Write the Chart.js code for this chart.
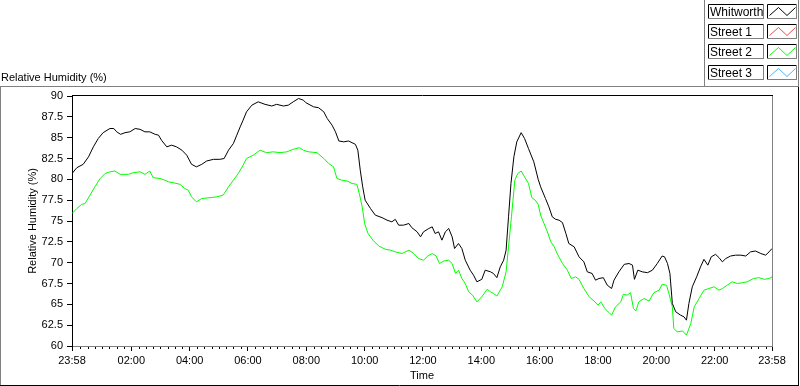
<!DOCTYPE html>
<html>
<head>
<meta charset="utf-8">
<script src="https://cdn.jsdelivr.net/npm/chart.js@4.4.1/dist/chart.umd.min.js"></script>
<style>
  html, body { margin: 0; padding: 0; background: #fff; }
  canvas { display: block; }
</style>
</head>
<body>
<canvas id="rh" width="800" height="386"></canvas>
<script>
// Time is minutes from midnight; -2 is 23:58 of the previous day
const whitworthTime = [
  -2, 8, 21, 32, 42, 52, 62, 76, 84, 90,
  98, 107, 117, 128, 138, 148, 158, 169, 176, 182,
  193, 203, 213, 224, 234, 244, 254, 265, 275, 289,
  302, 311, 320, 330, 337, 344, 350, 357, 368, 381,
  395, 409, 419, 433, 443, 453, 464, 474, 479, 495,
  505, 516, 523, 533, 540, 547, 557, 567, 581, 586,
  591, 596, 601, 612, 622, 636, 646, 656, 663, 670,
  680, 691, 697, 708, 715, 721, 732, 739, 745, 752,
  759, 766, 773, 780, 785, 793, 800, 807, 817, 824,
  831, 841, 848, 859, 865, 872, 879, 886, 891, 896,
  901, 907, 913, 922, 929, 937, 948, 957, 962, 972,
  979, 986, 993, 1000, 1007, 1014, 1020, 1031, 1041, 1051,
  1058, 1068, 1075, 1082, 1091, 1099, 1108, 1113, 1123, 1134,
  1144, 1151, 1155, 1162, 1171, 1182, 1192, 1202, 1212, 1217,
  1223, 1228, 1233, 1240, 1250, 1257, 1262, 1267, 1274, 1283,
  1291, 1298, 1306, 1313, 1322, 1329, 1336, 1343, 1353, 1363,
  1374, 1384, 1394, 1404, 1415, 1425, 1432, 1438
];
const whitworthRH = [
  80.7, 81.4, 81.8, 82.7, 83.9, 84.9, 85.6, 86.1, 86.1, 85.7,
  85.4, 85.6, 85.7, 86.1, 86.0, 85.7, 85.7, 85.4, 85.3, 84.7,
  83.9, 84.1, 83.9, 83.5, 82.9, 81.8, 81.5, 81.8, 82.2, 82.4,
  82.4, 82.5, 83.5, 84.3, 85.3, 86.3, 87.1, 88.1, 88.9, 89.3,
  89.0, 88.8, 89.0, 88.8, 88.9, 89.3, 89.7, 89.5, 89.2, 88.7,
  88.6, 88.1, 87.3, 86.5, 85.7, 84.6, 84.5, 84.6, 84.2, 83.5,
  81.1, 79.1, 77.5, 76.5, 75.7, 75.4, 75.1, 74.9, 75.2, 74.5,
  74.5, 74.7, 74.2, 73.7, 73.1, 73.7, 74.1, 74.3, 73.5, 73.7,
  72.7, 73.7, 74.1, 73.1, 71.7, 72.3, 71.7, 70.3, 69.1, 68.5,
  67.7, 68.0, 69.1, 68.9, 68.7, 68.2, 69.5, 70.3, 71.5, 75.5,
  79.5, 82.7, 84.5, 85.6, 84.9, 83.7, 82.1, 80.0, 79.1, 77.7,
  76.7, 75.5, 75.2, 75.1, 74.8, 73.5, 72.3, 71.9, 70.7, 70.1,
  68.9, 68.7, 67.9, 68.1, 68.2, 67.3, 66.9, 67.9, 68.9, 69.8,
  69.9, 69.7, 68.0, 69.1, 68.9, 68.8, 69.1, 69.9, 70.8, 70.7,
  69.9, 68.7, 65.1, 64.1, 63.7, 63.5, 63.1, 65.1, 67.1, 68.3,
  69.5, 70.4, 69.7, 70.7, 71.0, 70.6, 70.1, 70.5, 70.8, 70.9,
  70.9, 70.8, 71.3, 71.4, 71.1, 70.9, 71.3, 71.7
];

const street2Time = [
  -2, 8, 18, 25, 35, 45, 56, 66, 76, 86,
  97, 114, 124, 138, 148, 158, 165, 179, 189, 196,
  206, 220, 230, 237, 244, 254, 265, 282, 296, 309,
  320, 330, 340, 350, 357, 371, 385, 398, 412, 426,
  440, 453, 466, 474, 479, 485, 502, 516, 526, 536,
  543, 553, 564, 574, 584, 589, 595, 600, 607, 617,
  629, 643, 653, 663, 677, 691, 701, 711, 721, 730,
  739, 747, 754, 763, 773, 780, 787, 793, 800, 807,
  814, 822, 831, 841, 852, 859, 865, 872, 883, 891,
  896, 902, 909, 915, 922, 929, 937, 944, 951, 957,
  962, 969, 976, 983, 990, 996, 1007, 1017, 1025, 1034,
  1041, 1051, 1062, 1072, 1080, 1086, 1094, 1103, 1108, 1116,
  1127, 1132, 1140, 1147, 1153, 1158, 1164, 1175, 1185, 1195,
  1206, 1212, 1221, 1226, 1233, 1236, 1243, 1254, 1262, 1271,
  1278, 1288, 1298, 1308, 1319, 1329, 1336, 1346, 1356, 1367,
  1377, 1387, 1400, 1411, 1422, 1432, 1438
];
const street2RH = [
  75.9, 76.5, 77.0, 77.1, 78.1, 79.1, 80.1, 80.7, 80.9, 81.0,
  80.6, 80.6, 80.8, 80.9, 80.6, 81.0, 80.2, 80.1, 79.9, 79.7,
  79.6, 79.4, 78.9, 78.7, 77.9, 77.3, 77.7, 77.8, 77.9, 78.1,
  79.1, 79.9, 80.7, 81.7, 82.5, 82.9, 83.5, 83.2, 83.3, 83.2,
  83.3, 83.6, 83.8, 83.5, 83.4, 83.3, 83.2, 82.5, 81.9, 81.5,
  80.1, 79.9, 79.8, 79.5, 79.4, 78.3, 76.7, 74.7, 73.5, 72.7,
  72.0, 71.6, 71.5, 71.3, 71.1, 71.5, 71.1, 70.5, 70.3, 70.8,
  71.1, 70.8, 69.9, 70.2, 70.3, 69.9, 68.7, 69.1, 68.1, 67.5,
  66.5, 66.1, 65.3, 65.9, 66.8, 66.5, 66.3, 66.0, 67.1, 68.9,
  71.9, 75.5, 79.9, 80.7, 81.0, 80.3, 79.5, 77.8, 77.5, 77.0,
  75.7, 74.7, 73.7, 72.5, 71.9, 71.1, 69.9, 69.1, 68.1, 68.3,
  68.0, 66.9, 65.9, 65.4, 64.9, 65.3, 64.5, 64.0, 63.7, 64.7,
  65.3, 66.2, 66.1, 66.4, 64.5, 64.2, 65.3, 65.7, 65.4, 66.4,
  66.7, 67.4, 67.3, 66.3, 64.7, 62.1, 61.7, 61.8, 61.3, 62.7,
  64.7, 65.7, 66.7, 66.9, 67.1, 66.7, 66.9, 67.3, 67.7, 67.5,
  67.6, 67.7, 68.1, 68.2, 68.0, 68.1, 68.3
];

const xTickValues = [-2, 120, 240, 360, 480, 600, 720, 840, 960, 1080, 1200, 1320, 1438];
const xTickLabels = ['23:58', '02:00', '04:00', '06:00', '08:00', '10:00', '12:00',
                     '14:00', '16:00', '18:00', '20:00', '22:00', '23:58'];
const xMinorStep = 15;
const yTickValues = [60, 62.5, 65, 67.5, 70, 72.5, 75, 77.5, 80, 82.5, 85, 87.5, 90];

const legendNames   = ['Whitworth', 'Street 1', 'Street 2', 'Street 3'];
const legendColours = ['#000000', '#f04848', '#00ff00', '#48b4ff'];

const FONT = '11px "Liberation Sans", Arial, sans-serif';
Chart.defaults.font.family = '"Liberation Sans", Arial, sans-serif';
Chart.defaults.font.size = 11;
Chart.defaults.color = '#000';

const pts = (xs, ys) => xs.map((x, i) => ({ x, y: ys[i] }));

function seg(ctx, colour, x1, y1, x2, y2) {
  ctx.strokeStyle = colour;
  ctx.beginPath();
  ctx.moveTo(x1, y1);
  ctx.lineTo(x2, y2);
  ctx.stroke();
}

// LabVIEW style frame, titles, minor ticks and plot legend
const frame = {
  id: 'labviewFrame',
  afterDraw(chart) {
    const ctx = chart.ctx;
    const a = chart.chartArea;
    const xs = chart.scales.x;
    const H = chart.height;
    ctx.save();
    ctx.lineWidth = 1;

    // outer frame
    seg(ctx, '#808080', 0, 86.5, 798, 86.5);
    seg(ctx, '#808080', 0.5, 86, 0.5, H);
    seg(ctx, '#000', 798.5, 87, 798.5, H);
    seg(ctx, '#000', 0, H - 0.5, 799, H - 0.5);
    seg(ctx, '#808080', 704.5, 0, 704.5, 87);
    seg(ctx, '#808080', 798.5, 0, 798.5, 87);

    // plot box top / right
    seg(ctx, '#000', a.left, a.top - 0.5, a.right + 1, a.top - 0.5);
    seg(ctx, '#808080', a.right + 0.5, a.top, a.right + 0.5, a.bottom + 1);

    // minor ticks
    for (let t = 0; t < 1440; t += xMinorStep) {
      if (t % 120 === 0) continue;
      const x = Math.round(xs.getPixelForValue(t)) + 0.5;
      seg(ctx, '#000', x, a.bottom + 1, x, a.bottom + 3);
    }

    // titles
    ctx.fillStyle = '#000';
    ctx.font = FONT;
    ctx.textAlign = 'left';
    ctx.textBaseline = 'alphabetic';
    ctx.fillText('Relative Humidity (%)', 1, 81);
    ctx.textAlign = 'center';
    ctx.fillText('Time', (a.left + a.right) / 2, 379);
    ctx.save();
    ctx.translate(36, (a.top + a.bottom) / 2);
    ctx.rotate(-Math.PI / 2);
    ctx.fillText('Relative Humidity (%)', 0, 0);
    ctx.restore();

    // legend
    const rowTop = [5, 25, 45, 66];
    ctx.font = '12px "Liberation Sans", Arial, sans-serif';
    legendNames.forEach((name, i) => {
      const y0 = rowTop[i] - 0.5, y1 = y0 + 14;
      [[708.5, 763.5], [767.5, 796.5]].forEach(([l, r]) => {
        seg(ctx, '#000', l, y0, r, y0);
        seg(ctx, '#000', l, y0, l, y1);
        seg(ctx, '#808080', l, y1, r + 0.5, y1);
        seg(ctx, '#808080', r, y0, r, y1);
      });
      ctx.textAlign = 'left';
      ctx.fillStyle = '#000';
      ctx.fillText(name, 710, rowTop[i] + 11);
      ctx.strokeStyle = legendColours[i];
      ctx.beginPath();
      ctx.moveTo(769.5, rowTop[i] + 10.5);
      ctx.lineTo(778.5, rowTop[i] + 2.5);
      ctx.lineTo(787, rowTop[i] + 10.5);
      ctx.lineTo(795.5, rowTop[i] + 2.5);
      ctx.stroke();
    });
    ctx.restore();
  },
};

new Chart(document.getElementById('rh'), {
  type: 'line',
  data: {
    datasets: [
      {
        label: 'Whitworth',
        data: pts(whitworthTime, whitworthRH),
        borderColor: legendColours[0],
        borderWidth: 1,
        pointRadius: 0,
        tension: 0,
      },
      {
        label: 'Street 2',
        data: pts(street2Time, street2RH),
        borderColor: legendColours[2],
        borderWidth: 1,
        pointRadius: 0,
        tension: 0,
      },
    ],
  },
  options: {
    responsive: false,
    animation: false,
    events: [],
    layout: { padding: { left: 0, top: 96, right: 28, bottom: 0 } },
    plugins: { legend: { display: false }, tooltip: { enabled: false } },
    scales: {
      x: {
        type: 'linear',
        min: xTickValues[0],
        max: xTickValues[xTickValues.length - 1],
        afterBuildTicks(s) { s.ticks = xTickValues.map(v => ({ value: v })); },
        afterFit(s) { s.height = 40; },
        ticks: {
          autoSkip: false,
          maxRotation: 0,
          padding: 3,
          color: '#000',
          callback: (v, i) => xTickLabels[i],
        },
        grid: { drawOnChartArea: false, tickLength: 5, tickColor: '#000' },
        border: { color: '#808080', width: 1 },
      },
      y: {
        min: 60,
        max: 90,
        afterBuildTicks(s) { s.ticks = yTickValues.map(v => ({ value: v })); },
        afterFit(s) { s.width = 72; },
        ticks: { padding: 4, color: '#000', callback: v => String(v) },
        grid: { drawOnChartArea: false, tickLength: 5, tickColor: '#000' },
        border: { color: '#000', width: 1 },
      },
    },
  },
  plugins: [frame],
});
</script>
</body>
</html>
